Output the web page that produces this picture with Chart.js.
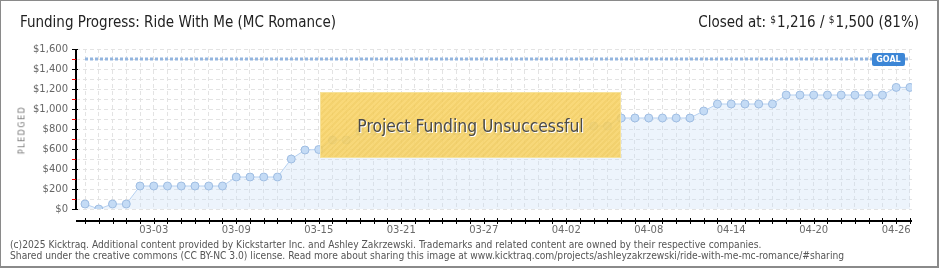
<!DOCTYPE html>
<html>
<head>
<meta charset="utf-8">
<script src="https://cdn.jsdelivr.net/npm/chart.js@4"></script>
<style>
  html, body { margin: 0; padding: 0; background: #fff; }
  #frame {
    position: absolute; left: 0; top: 0;
    width: 936px; height: 265px;
    border: 1px solid #8a8a8a; border-right-width: 2px; border-bottom-width: 2px;
  }
  #chartBox { position: absolute; left: 0; top: 0; width: 940px; height: 270px; }
  .txt { position: absolute; white-space: nowrap; font-family: "Liberation Sans Narrow", "DejaVu Sans Condensed", sans-serif; }
  #title { left: 20px; top: 13px; font-size: 15px; color: #222; }
  #closed { right: 21px; top: 13px; font-size: 15px; color: #222; }
  #closed .d { font-size: 10px; vertical-align: 4px; margin-right: 1px; }
  #ylabel {
    left: 22px; top: 130px; font-family: "DejaVu Sans", sans-serif; font-size: 8px;
    color: #777; letter-spacing: 1.5px; transform: translate(-50%, -50%) rotate(-90deg);
  }
  #fail {
    left: 320px; top: 92px; width: 299px; height: 64px;
    border: 1px solid #f6e29a;
    background:
      repeating-linear-gradient(135deg, rgba(255,255,255,0.06) 0 2px, rgba(0,0,0,0.02) 2px 4px),
      rgba(248, 207, 90, 0.86);
    color: #4a4a4a; font-size: 17.3px; text-align: center; line-height: 66px;
    text-shadow: 1px 1px 0 #fff;
  }
  #foot { left: 10px; top: 239px; font-size: 10.2px; color: #555; line-height: 11px; }
</style>
</head>
<body>
<div id="frame"></div>
<div id="chartBox"><canvas id="grafico" width="940" height="270"></canvas></div>
<div class="txt" id="title">Funding Progress: Ride With Me (MC Romance)</div>
<div class="txt" id="closed">Closed at: <span class="d">$</span>1,216 / <span class="d">$</span>1,500 (81%)</div>
<div class="txt" id="ylabel">PLEDGED</div>
<div class="txt" id="fail">Project Funding Unsuccessful</div>
<div class="txt" id="foot">(c)2025 Kicktraq. Additional content provided by Kickstarter Inc. and Ashley Zakrzewski. Trademarks and related content are owned by their respective companies.<br>Shared under the creative commons (CC BY-NC 3.0) license. Read more about sharing this image at www.kicktraq.com/projects/ashleyzakrzewski/ride-with-me-mc-romance/#sharing</div>

<script>
// === Dados ===
const dias = [
  "02-26", "02-27", "02-28", "03-01", "03-02", "03-03", "03-04", "03-05", "03-06", "03-07",
  "03-08", "03-09", "03-10", "03-11", "03-12", "03-13", "03-14", "03-15", "03-16", "03-17",
  "03-18", "03-19", "03-20", "03-21", "03-22", "03-23", "03-24", "03-25", "03-26", "03-27",
  "03-28", "03-29", "03-30", "03-31", "04-01", "04-02", "04-03", "04-04", "04-05", "04-06",
  "04-07", "04-08", "04-09", "04-10", "04-11", "04-12", "04-13", "04-14", "04-15", "04-16",
  "04-17", "04-18", "04-19", "04-20", "04-21", "04-22", "04-23", "04-24", "04-25", "04-26",
  "04-27"
];
const arrecadado = [
  50, 0, 50, 50, 230, 230, 230, 230, 230, 230,
  230, 320, 320, 320, 320, 500, 590, 595, 690, 690,
  775, 780, 780, 780, 780, 780, 780, 780, 780, 780,
  780, 780, 780, 780, 780, 780, 780, 830, 830, 910,
  910, 910, 910, 910, 910, 980, 1050, 1050, 1050, 1050,
  1050, 1140, 1140, 1140, 1140, 1140, 1140, 1140, 1140, 1216,
  1216
];
const meta = 1500;
const ticksY = [0, 100, 200, 300, 400, 500, 600, 700, 800, 900, 1000, 1100, 1200, 1300, 1400, 1500, 1600];
const rotulosX = ["03-03", "03-09", "03-15", "03-21", "03-27", "04-02", "04-08", "04-14", "04-20", "04-26"];

// Eixos desenhados à mão (linha preta, marcas pretas/vermelhas) + selo GOAL
const eixosPlugin = {
  id: "eixos",
  afterDraw(chart) {
    const { ctx, chartArea: a, scales: { x, y } } = chart;
    ctx.save();
    // eixo Y
    ctx.strokeStyle = "#000";
    ctx.lineWidth = 2;
    ctx.beginPath();
    ctx.moveTo(a.left, a.top);
    ctx.lineTo(a.left, a.bottom + 1);
    ctx.stroke();
    ctx.lineWidth = 1;
    ticksY.forEach(v => {
      const py = Math.round(y.getPixelForValue(v)) + 0.5;
      ctx.strokeStyle = v % 200 === 0 ? "#000" : "#e00";
      ctx.beginPath();
      ctx.moveTo(a.left - 4, py);
      ctx.lineTo(v % 200 === 0 ? a.left + 2 : a.left, py);
      ctx.stroke();
    });
    // eixo X (deslocado para baixo)
    const yx = a.bottom + 12;
    ctx.strokeStyle = "#000";
    ctx.lineWidth = 2;
    ctx.beginPath();
    ctx.moveTo(a.left, yx);
    ctx.lineTo(a.right, yx);
    ctx.stroke();
    ctx.lineWidth = 1;
    dias.forEach((d, i) => {
      const px = Math.round(x.getPixelForValue(i)) + 0.5;
      ctx.beginPath();
      ctx.moveTo(px, yx - 3);
      ctx.lineTo(px, yx + 3);
      ctx.stroke();
    });
    // selo GOAL
    const gy = y.getPixelForValue(meta);
    const gx = 872, gw = 33, gh = 13;
    ctx.fillStyle = "#3c86d6";
    ctx.beginPath();
    ctx.roundRect(gx, gy - 6, gw, gh, 2);
    ctx.fill();
    ctx.fillStyle = "#fff";
    ctx.font = "bold 8px 'DejaVu Sans'";
    ctx.textAlign = "center";
    ctx.textBaseline = "middle";
    ctx.fillText("GOAL", gx + gw / 2, gy + 0.5);
    ctx.restore();
  }
};

const ctx = document.getElementById("grafico").getContext("2d");
new Chart(ctx, {
  type: "line",
  data: {
    datasets: [
      {
        label: "Meta",
        data: dias.map((d, i) => ({ x: i, y: meta })),
        borderColor: "#93b5df",
        borderWidth: 3,
        borderDash: [3, 2],
        pointRadius: 0,
        fill: false
      },
      {
        label: "Arrecadado",
        data: arrecadado.map((v, i) => ({ x: i, y: v })),
        borderColor: "#b6d1f1",
        borderWidth: 1,
        backgroundColor: "rgba(200, 222, 247, 0.33)",
        fill: "origin",
        pointRadius: 4,
        pointBackgroundColor: "#c4dbf5",
        pointBorderColor: "#9fbde2",
        pointBorderWidth: 1,
        tension: 0
      }
    ]
  },
  options: {
    responsive: false,
    animation: false,
    events: [],
    layout: { padding: { top: 49, right: 28, left: 0, bottom: 0 } },
    plugins: { legend: { display: false }, tooltip: { enabled: false } },
    scales: {
      x: {
        type: "linear",
        min: -0.655,
        max: 60.15,
        afterBuildTicks: s => { s.ticks = dias.map((d, i) => ({ value: i })); },
        afterFit: s => { s.height = 61; },
        grid: { color: "#e3e3e3", drawTicks: false },
        border: { display: false, dash: [4, 3] },
        ticks: {
          autoSkip: false,
          maxRotation: 0,
          padding: 15,
          color: "#6a6a6a",
          font: { family: "DejaVu Sans", size: 10 },
          callback: v => (rotulosX.includes(dias[v]) ? dias[v] : "")
        }
      },
      y: {
        min: 0,
        max: 1600,
        afterBuildTicks: s => { s.ticks = ticksY.map(v => ({ value: v })); },
        afterFit: s => { s.width = 76; },
        grid: { color: "#e3e3e3", drawTicks: false },
        border: { display: false, dash: [4, 3] },
        ticks: {
          autoSkip: false,
          padding: 8,
          color: "#666",
          font: { family: "DejaVu Sans", size: 10 },
          callback: v => (v % 200 === 0 ? "$" + v.toLocaleString("en-US") : "")
        }
      }
    }
  },
  plugins: [eixosPlugin]
});
</script>
</body>
</html>
